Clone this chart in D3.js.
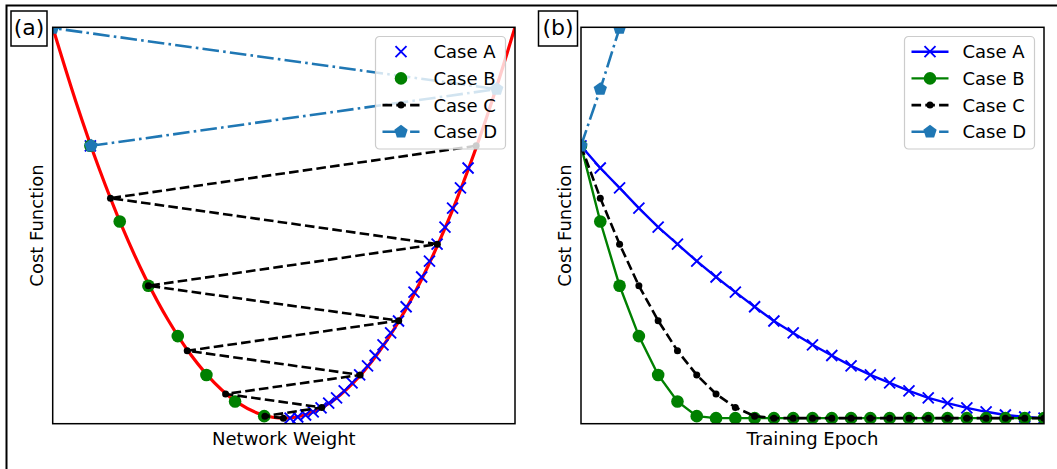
<!DOCTYPE html>
<html>
<head>
<meta charset="utf-8">
<script src="https://cdn.jsdelivr.net/npm/d3@7"></script>
<style>
  body { margin: 0; background: #fff; }
  text { font-family: "DejaVu Sans", sans-serif; fill: #000; }
</style>
</head>
<body>
<div id="chart"></div>
<script>
// ---- data ----
// (a) red cost curve, sampled along the line
var curveWeights = [-1, -0.9, -0.8, -0.7, -0.6, -0.5, -0.4, -0.3, -0.2, -0.1, 0,
                    0.1, 0.2, 0.3, 0.4, 0.5, 0.6, 0.7, 0.8, 0.9, 1];
var curveCosts = [1.000, 0.813, 0.645, 0.497, 0.369, 0.261, 0.172, 0.103, 0.053, 0.024, 0.014,
                  0.024, 0.053, 0.103, 0.172, 0.261, 0.369, 0.497, 0.645, 0.813, 1.000];

var epochs = [0, 1, 2, 3, 4, 5, 6, 7, 8, 9, 10, 11, 12, 13, 14, 15, 16, 17, 18, 19, 20, 21, 22, 23, 24];
var caseNames = ["Case A", "Case B", "Case C", "Case D"];

// cost per epoch, from panel (b)
var costA = [0.701, 0.645, 0.595, 0.544, 0.496, 0.453, 0.410, 0.370, 0.332, 0.295, 0.259, 0.229, 0.199,
             0.172, 0.146, 0.123, 0.103, 0.083, 0.065, 0.052, 0.040, 0.030, 0.022, 0.017, 0.014];
var costB = [0.701, 0.510, 0.348, 0.221, 0.123, 0.056, 0.019, 0.014, 0.014, 0.014, 0.014, 0.014, 0.014,
             0.014, 0.014, 0.014, 0.014, 0.014, 0.014, 0.014, 0.014, 0.014, 0.014, 0.014, 0.014];
var costC = [0.701, 0.569, 0.453, 0.348, 0.260, 0.184, 0.123, 0.075, 0.041, 0.019, 0.014, 0.014, 0.014,
             0.014, 0.014, 0.014, 0.014, 0.014, 0.014, 0.014, 0.014, 0.014, 0.014, 0.014, 0.014];
var costD = [0.701, 0.844, 0.998, 1.170];

// weight per epoch, from panel (a) (only the visible steps)
var weightA = [-0.837, 0.797, 0.764, 0.730, 0.697, 0.663, 0.630, 0.596, 0.563, 0.529, 0.496, 0.462, 0.429,
               0.395, 0.362, 0.328, 0.295, 0.261, 0.228, 0.194, 0.161, 0.127, 0.094, 0.060, 0.027];
var weightB = [-0.837, -0.710, -0.586, -0.459, -0.335, -0.211, -0.085];
var weightC = [0.832, -0.750, 0.664, -0.586, 0.497, -0.418, 0.330, -0.252, 0.164, -0.082, -0.002];
var weightD = [-0.834, 0.921, -1.000, 1.080];

// ---- styles ----
var styles = [
  {color: "#0000ff", width: 2.4, dash: null,          marker: "x"},
  {color: "#008000", width: 2.4, dash: null,          marker: "o"},
  {color: "#000000", width: 2.6, dash: "9.6,4.2",     marker: "."},
  {color: "#1f77b4", width: 2.6, dash: "16.6,4.2,2.6,4.2", marker: "p"}
];

var W = 1057, H = 469;
var svg = d3.select("#chart").append("svg")
  .attr("width", W)
  .attr("height", H);

// outer frame of the figure (cropped on the right and bottom)
svg.append("rect")
  .attr("x", 6.5).attr("y", 5.5)
  .attr("width", 1200).attr("height", 600)
  .attr("fill", "none").attr("stroke", "#000").attr("stroke-width", 2);

var panelTop = 27.3, height = 396.4;

// draws one marker of the given kind into sel, centred on 0,0
function marker(sel, kind, color) {
  if (kind === "x") {
    sel.append("path").attr("d", "M-5.5,-5.5L5.5,5.5M-5.5,5.5L5.5,-5.5")
      .attr("stroke", color).attr("stroke-width", 1.9).attr("fill", "none");
  } else if (kind === "o") {
    sel.append("circle").attr("r", 6.3).attr("fill", color);
  } else if (kind === ".") {
    sel.append("circle").attr("r", 3.5).attr("fill", color);
  } else if (kind === "p") {
    var pts = d3.range(5).map(function(i) {
      var a = -Math.PI / 2 + i * 2 * Math.PI / 5;
      return [7 * Math.cos(a), 7 * Math.sin(a)];
    });
    sel.append("path").attr("d", "M" + pts.join("L") + "Z").attr("fill", color);
  }
}

function legend(g, w, withLines) {
  var lg = g.append("g").attr("transform", "translate(" + (w - 9 - 131) + ",8.7)");
  lg.append("rect")
    .attr("x", 0.5).attr("y", 0.5)
    .attr("width", 130).attr("height", 112.5)
    .attr("rx", 4)
    .attr("fill", "#fff").attr("fill-opacity", 0.8)
    .attr("stroke", "#cccccc").attr("stroke-width", 1.2);
  caseNames.forEach(function(name, i) {
    var s = styles[i];
    var cy = 15.7 + i * 26.7;
    if (withLines[i]) {
      lg.append("line")
        .attr("x1", 7.5).attr("x2", 44.5)
        .attr("y1", cy).attr("y2", cy)
        .attr("stroke", s.color).attr("stroke-width", s.width)
        .attr("stroke-dasharray", s.dash);
    }
    marker(lg.append("g").attr("transform", "translate(26," + cy + ")"), s.marker, s.color);
    lg.append("text")
      .attr("x", 58.5).attr("y", cy + 6.4)
      .style("font-size", "18px")
      .text(name);
  });
}

function panelLabel(x, w, label) {
  svg.append("rect")
    .attr("x", x).attr("y", 11)
    .attr("width", w).attr("height", 35)
    .attr("fill", "#fff").attr("stroke", "#000").attr("stroke-width", 1.5);
  svg.append("text")
    .attr("x", x + w / 2).attr("y", 35)
    .attr("text-anchor", "middle")
    .style("font-size", "22px")
    .text(label);
}

// ================= panel (a): cost vs weight =================
var leftA = 52.7, widthA = 462.3;
var gA = svg.append("g").attr("transform", "translate(" + leftA + "," + panelTop + ")");

var xA = d3.scaleLinear().domain([-1, 1]).range([0, widthA]);
var yA = d3.scaleLinear().domain([0, 1]).range([height, 0]);

gA.append("clipPath").attr("id", "clipA")
  .append("rect").attr("width", widthA).attr("height", height);
var plotA = gA.append("g").attr("clip-path", "url(#clipA)");

// red cost curve
plotA.append("path")
  .datum(d3.zip(curveWeights, curveCosts))
  .attr("fill", "none")
  .attr("stroke", "#ff0000")
  .attr("stroke-width", 3.2)
  .attr("d", d3.line()
    .x(function(d) { return xA(d[0]); })
    .y(function(d) { return yA(d[1]); })
    .curve(d3.curveCatmullRom));

var weightsA = [weightA, weightB, weightC, weightD];
var costsA = [costA, costB, costC, costD];
var linesA = [false, false, true, true];

weightsA.forEach(function(ws, i) {
  var s = styles[i];
  var pts = ws.map(function(w, k) { return [w, costsA[i][k]]; });
  if (linesA[i]) {
    plotA.append("path")
      .datum(pts)
      .attr("fill", "none")
      .attr("stroke", s.color)
      .attr("stroke-width", s.width)
      .attr("stroke-dasharray", s.dash)
      .attr("d", d3.line()
        .x(function(d) { return xA(d[0]); })
        .y(function(d) { return yA(d[1]); }));
  }
  pts.forEach(function(d) {
    marker(plotA.append("g").attr("transform", "translate(" + xA(d[0]) + "," + yA(d[1]) + ")"), s.marker, s.color);
  });
});

legend(gA, widthA, linesA);

gA.append("rect")
  .attr("width", widthA).attr("height", height)
  .attr("fill", "none").attr("stroke", "#000").attr("stroke-width", 1.5);

gA.append("text")
  .attr("x", widthA / 2).attr("y", height + 21.3)
  .attr("text-anchor", "middle")
  .style("font-size", "18px")
  .text("Network Weight");
gA.append("text")
  .attr("transform", "translate(-9.7," + height / 2 + ") rotate(-90)")
  .attr("text-anchor", "middle")
  .style("font-size", "18px")
  .text("Cost Function");

panelLabel(11, 36, "(a)");

// ================= panel (b): cost vs epoch =================
var leftB = 581, widthB = 463;
var gB = svg.append("g").attr("transform", "translate(" + leftB + "," + panelTop + ")");

var xB = d3.scaleLinear().domain([0, 24]).range([0, widthB]);
var yB = d3.scaleLinear().domain([0, 1]).range([height, 0]);

gB.append("clipPath").attr("id", "clipB")
  .append("rect").attr("width", widthB).attr("height", height);
var plotB = gB.append("g").attr("clip-path", "url(#clipB)");

var costsB = [costA, costB, costC, costD];

costsB.forEach(function(cs, i) {
  var s = styles[i];
  var pts = cs.map(function(c, k) { return [epochs[k], c]; });
  plotB.append("path")
    .datum(pts)
    .attr("fill", "none")
    .attr("stroke", s.color)
    .attr("stroke-width", s.width)
    .attr("stroke-dasharray", s.dash)
    .attr("d", d3.line()
      .x(function(d) { return xB(d[0]); })
      .y(function(d) { return yB(d[1]); }));
  pts.forEach(function(d) {
    marker(plotB.append("g").attr("transform", "translate(" + xB(d[0]) + "," + yB(d[1]) + ")"), s.marker, s.color);
  });
});

legend(gB, widthB, [true, true, true, true]);

gB.append("rect")
  .attr("width", widthB).attr("height", height)
  .attr("fill", "none").attr("stroke", "#000").attr("stroke-width", 1.5);

gB.append("text")
  .attr("x", widthB / 2).attr("y", height + 21.3)
  .attr("text-anchor", "middle")
  .style("font-size", "18px")
  .text("Training Epoch");
gB.append("text")
  .attr("transform", "translate(-10.3," + height / 2 + ") rotate(-90)")
  .attr("text-anchor", "middle")
  .style("font-size", "18px")
  .text("Cost Function");

panelLabel(538.5, 39, "(b)");
</script>
</body>
</html>
